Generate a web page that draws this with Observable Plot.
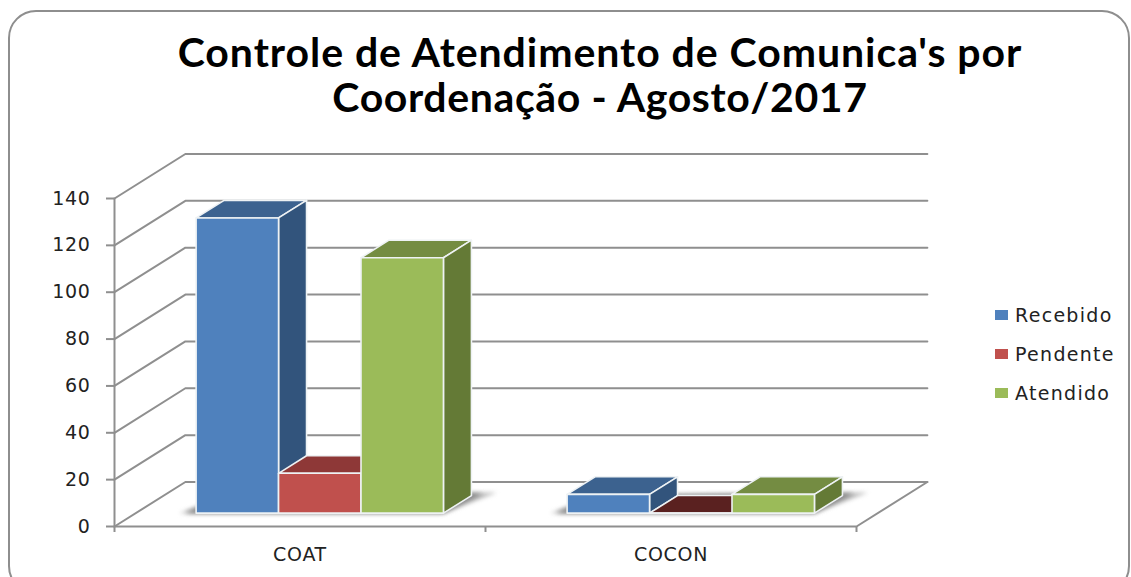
<!DOCTYPE html>
<html><head><meta charset="utf-8">
<script src="https://cdn.jsdelivr.net/npm/d3@7"></script>
<script src="https://cdn.jsdelivr.net/npm/@observablehq/plot@0.6"></script>
<style>
html,body{margin:0;padding:0;background:#fff}
#wrap{position:relative;width:1131px;height:577px;overflow:hidden;background:#fff}
#frame{position:absolute;left:8px;top:10px;width:1118px;height:580px;border:2px solid #8e8e8e;border-radius:28px;box-sizing:content-box}
#title{position:absolute;left:0;top:29px;width:1200px;text-align:center;font:bold 41px/45px Lato,sans-serif;color:#000;letter-spacing:.95px}
#title span{letter-spacing:.62px}
#legend{position:absolute;left:995px;top:295px;font:19px "DejaVu Sans",sans-serif;letter-spacing:1.3px;color:#222}
.row{display:flex;align-items:center;height:39px}
.sw{width:13px;height:10px;margin-right:7px}
svg{position:absolute;left:0;top:0}
</style></head>
<body><div id="wrap"><div id="frame"></div>
<div id="title">Controle de Atendimento de Comunica's por<br><span>Coordenação - Agosto/2017</span></div>
<div id="legend"></div></div>
<script>
const categories = ["COAT", "COCON"];
const seriesNames = ["Recebido", "Pendente", "Atendido"];
const recebido = [126, 8];
const pendente = [17, 0];
const atendido = [109, 8];
const seriesValues = [recebido, pendente, atendido];
const yTicks = [0, 20, 40, 60, 80, 100, 120, 140];
const frontColors = ["#4F81BD", "#C0504D", "#9BBB59"];
const sideColors = ["#32547C", "#7E2F2D", "#647A36"];
const topColors = ["#3C628F", "#8E3837", "#748C42"];
const floorColors = ["#2A4566", "#5A2120", "#4E5F2A"];

const depthX = 0.191, depthY = 19;           // oblique projection of the depth axis, in data units
const d0 = 0.30, d1 = 0.695;                 // bar depth span
const slot = 1 / 4.5, gap = 0.75 * slot - 0.004;
const P = (c, v, d) => ({x: c + d * depthX, y: v + d * depthY});

const grid = [];
const addLine = (id, pts) => pts.forEach(p => grid.push({id, ...p}));
yTicks.forEach(v => {
  addLine("wall" + v, [P(0, v, 0), P(0, v, 1), P(2, v, 1)]);
});
addLine("axisY", [P(0, 0, 0), P(0, 140, 0)]);
addLine("floor", [P(0, 0, 0), P(2, 0, 0), P(2, 0, 1)]);

const shadowsOuter = [], shadowsInner = [], faces = [];
const poly = (arr, id, fill, pts) => pts.forEach(p => arr.push({id, fill, ...p}));
categories.forEach((cat, ci) => {
  const xL = ci + gap, xR = xL + 3 * slot;
  poly(shadowsOuter, cat, "#bdbdbd", [P(xL - 0.045, 0, d0), P(xL, 0, d1), P(xR + 0.055, 0, d1 + 0.07), P(xR, 0, d0)]);
  poly(shadowsInner, cat, "#858585", [P(xL - 0.03, 0, d0), P(xL, 0, d1), P(xR + 0.022, 0, d1 + 0.05), P(xR, 0, d0)]);
  seriesNames.forEach((name, si) => {
    const v = seriesValues[si][ci];
    const a = xL + si * slot, b = a + slot, id = cat + name;
    poly(faces, id + "top", v === 0 ? floorColors[si] : topColors[si], [P(a, v, d0), P(a, v, d1), P(b, v, d1), P(b, v, d0)]);
    poly(faces, id + "side", sideColors[si], [P(b, 0, d0), P(b, 0, d1), P(b, v, d1), P(b, v, d0)]);
    poly(faces, id + "front", frontColors[si], [P(a, 0, d0), P(b, 0, d0), P(b, v, d0), P(a, v, d0)]);
  });
});

const plot = Plot.plot({
  width: 1131, height: 577,
  marginLeft: 114, marginRight: 275, marginTop: 198, marginBottom: 51,
  style: {fontFamily: "'DejaVu Sans', sans-serif", fontSize: "19px", letterSpacing: "0.7px", background: "transparent", color: "#222"},
  x: {domain: [0, 2], range: [114, 856]},
  y: {domain: [0, 140], range: [526, 198]},
  color: {type: "identity"},
  marks: [
    Plot.line(grid, {x: "x", y: "y", z: "id", stroke: "#8f8f8f", strokeWidth: 2}),
    Plot.line(shadowsOuter, {x: "x", y: "y", z: "id", fill: "fill", stroke: null, curve: "linear-closed", imageFilter: "blur(2px)"}),
    Plot.line(shadowsInner, {x: "x", y: "y", z: "id", fill: "fill", stroke: null, curve: "linear-closed", imageFilter: "blur(2px)"}),
    Plot.line(faces, {x: "x", y: "y", z: "id", fill: "fill", stroke: "#eef2f4", strokeWidth: 1.6, curve: "linear-closed"}),
    Plot.axisY(yTicks, {anchor: "left", tickSize: 8, tickPadding: 16, stroke: "#8f8f8f", strokeWidth: 2, label: null}),
    Plot.axisX([0, 1, 2], {anchor: "bottom", tickSize: 6, stroke: "#8f8f8f", strokeWidth: 2, tickFormat: () => null, label: null}),
    Plot.axisX([0.5, 1.5], {anchor: "bottom", tickSize: 0, tickPadding: 21, tickFormat: d => categories[d - 0.5], label: null})
  ]
});
document.getElementById("wrap").insertBefore(plot, document.getElementById("title"));

const legend = document.getElementById("legend");
seriesNames.forEach((name, i) => {
  const row = document.createElement("div");
  row.className = "row";
  const sw = document.createElement("span");
  sw.className = "sw"; sw.style.background = frontColors[i];
  const t = document.createElement("span");
  t.textContent = name;
  row.append(sw, t);
  legend.append(row);
});
</script></body></html>
